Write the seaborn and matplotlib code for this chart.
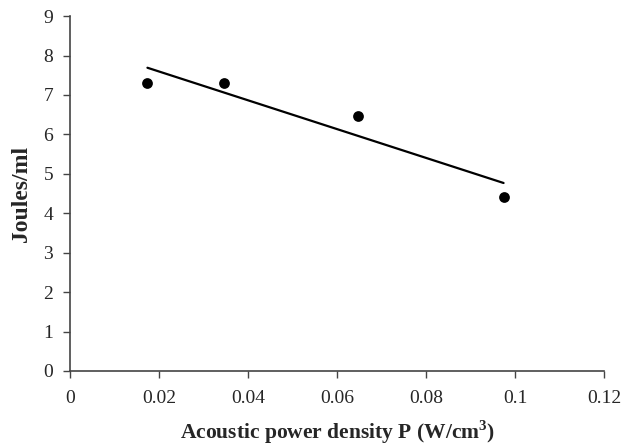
import matplotlib
matplotlib.use("Agg")
import matplotlib.pyplot as plt
import seaborn as sns
import pandas as pd

# Data
power_density = [0.0174, 0.0345, 0.0646, 0.0974]
joules_per_ml = [7.30, 7.30, 6.47, 4.42]
x_ticks = [0, 0.02, 0.04, 0.06, 0.08, 0.1, 0.12]
x_tick_labels = ["0", "0.02", "0.04", "0.06", "0.08", "0.1", "0.12"]
y_ticks = [0, 1, 2, 3, 4, 5, 6, 7, 8, 9]

df = pd.DataFrame({"P": power_density, "J": joules_per_ml})

# Creating the figure
sns.set_style("white")
plt.rcParams["font.family"] = ["Liberation Serif", "DejaVu Serif"]
plt.rcParams["mathtext.fontset"] = "custom"
plt.rcParams["mathtext.rm"] = "Liberation Serif:bold"
plt.rcParams["mathtext.bf"] = "Liberation Serif:bold"

fig = plt.figure(figsize=(6.27, 4.48), dpi=100)
ax = fig.add_axes([0.1116, 0.172, 0.852, 0.792])

sns.regplot(data=df, x="P", y="J", ax=ax, ci=None, truncate=True,
            scatter_kws={"color": "black", "s": 60, "linewidths": 0, "alpha": 1},
            line_kws={"color": "black", "linewidth": 1.6})

# Axes
ax.set_xlim(0, 0.12)
ax.set_ylim(0, 9)
ax.set_xticks(x_ticks)
ax.set_xticklabels(x_tick_labels)
ax.set_yticks(y_ticks)
ax.tick_params(axis="both", direction="out", length=5, width=1, color="#444444",
               labelsize=14, bottom=True, left=True)
ax.tick_params(axis="x", pad=9)
ax.tick_params(axis="y", pad=7)
for side in ["top", "right"]:
    ax.spines[side].set_visible(False)
for side in ["left", "bottom"]:
    ax.spines[side].set_color("#444444")
    ax.spines[side].set_linewidth(1.2)

# Labels
ax.set_xlabel(r"Acoustic power density P (W/cm$^{3}$)", fontsize=15.5,
              weight="bold", labelpad=8)
ax.set_ylabel("Joules/ml", fontsize=17, weight="bold", labelpad=8)

# Saving the figure
fig.savefig("out.png", dpi=100)
